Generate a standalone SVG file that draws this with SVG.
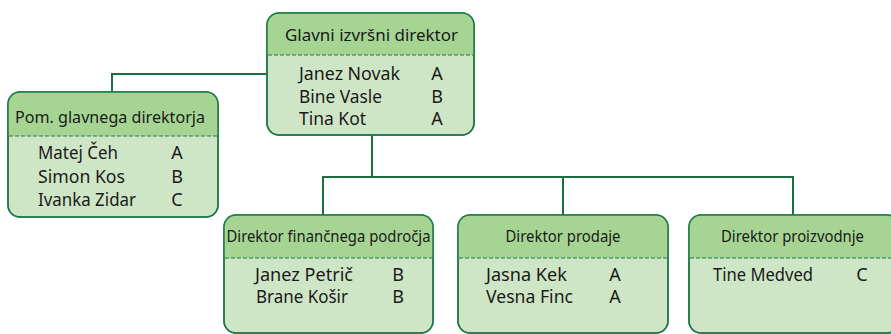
<svg xmlns="http://www.w3.org/2000/svg" width="891" height="334" viewBox="0 0 891 334">
<style>
.body{fill:#cfe6c6;stroke:#1f7a4a;stroke-width:1.5}
.head{fill:#a6d593}
.frame{fill:none;stroke:#1f7a4a;stroke-width:1.5}
.dash{stroke:#1f7a4a;stroke-width:1.2;stroke-dasharray:4 2;fill:none}
.conn{stroke:#1f6e42;stroke-width:2;fill:none}
text{font-family:"Noto Sans","Open Sans",sans-serif;font-size:18px;fill:#1a1a1a}
.h{text-anchor:middle;font-size:16.5px}
.m{text-anchor:middle}
</style>
<defs>
<clipPath id="c1"><rect x="267" y="13" width="207" height="122" rx="12"/></clipPath>
<clipPath id="c2"><rect x="8" y="92" width="210" height="125" rx="12"/></clipPath>
<clipPath id="c3"><rect x="224" y="215" width="209" height="118" rx="12"/></clipPath>
<clipPath id="c4"><rect x="458" y="215" width="210" height="118" rx="12"/></clipPath>
<clipPath id="c5"><rect x="689" y="215" width="210" height="118" rx="12"/></clipPath>
</defs>
<g id="connectors">
<path class="conn" d="M112 92 V74 H267"/>
<path class="conn" d="M372 135 V177"/>
<path class="conn" d="M323 215 V177 H793 V215"/>
<path class="conn" d="M563 177 V215"/>
</g>
<g id="ceo">
<rect class="body" x="267" y="13" width="207" height="122" rx="12"/>
<rect class="head" x="267" y="13" width="207" height="42" clip-path="url(#c1)"/>
<rect class="frame" x="267" y="13" width="207" height="122" rx="12"/>
<line class="dash" x1="268" y1="55" x2="473" y2="55"/>
<text x="371.5" y="41" class="h" textLength="173" lengthAdjust="spacingAndGlyphs">Glavni izvršni direktor</text>
<text x="299" y="80" textLength="101" lengthAdjust="spacingAndGlyphs">Janez Novak</text><text x="437" y="80" class="m">A</text>
<text x="299" y="103" textLength="83" lengthAdjust="spacingAndGlyphs">Bine Vasle</text><text x="437" y="103" class="m">B</text>
<text x="299" y="125" textLength="67" lengthAdjust="spacingAndGlyphs">Tina Kot</text><text x="437" y="125" class="m">A</text>
</g>
<g id="assistant">
<rect class="body" x="8" y="92" width="210" height="125" rx="12"/>
<rect class="head" x="8" y="92" width="210" height="44" clip-path="url(#c2)"/>
<rect class="frame" x="8" y="92" width="210" height="125" rx="12"/>
<line class="dash" x1="9" y1="136" x2="217" y2="136"/>
<text x="110" y="122.5" class="h" textLength="190" lengthAdjust="spacingAndGlyphs">Pom. glavnega direktorja</text>
<text x="38" y="159" textLength="80" lengthAdjust="spacingAndGlyphs">Matej Čeh</text><text x="177" y="159" class="m">A</text>
<text x="38" y="183" textLength="87" lengthAdjust="spacingAndGlyphs">Simon Kos</text><text x="177" y="183" class="m">B</text>
<text x="38" y="206" textLength="98" lengthAdjust="spacingAndGlyphs">Ivanka Zidar</text><text x="177" y="206" class="m">C</text>
</g>
<g id="finance">
<rect class="body" x="224" y="215" width="209" height="118" rx="12"/>
<rect class="head" x="224" y="215" width="209" height="43" clip-path="url(#c3)"/>
<rect class="frame" x="224" y="215" width="209" height="118" rx="12"/>
<line class="dash" x1="225" y1="258" x2="432" y2="258"/>
<text x="328.5" y="242" class="h" textLength="204" lengthAdjust="spacingAndGlyphs">Direktor finančnega področja</text>
<text x="255" y="281" textLength="98" lengthAdjust="spacingAndGlyphs">Janez Petrič</text><text x="398" y="281" class="m">B</text>
<text x="256" y="303" textLength="92" lengthAdjust="spacingAndGlyphs">Brane Košir</text><text x="398" y="303" class="m">B</text>
</g>
<g id="sales">
<rect class="body" x="458" y="215" width="210" height="118" rx="12"/>
<rect class="head" x="458" y="215" width="210" height="43" clip-path="url(#c4)"/>
<rect class="frame" x="458" y="215" width="210" height="118" rx="12"/>
<line class="dash" x1="459" y1="258" x2="667" y2="258"/>
<text x="563" y="242" class="h" textLength="115" lengthAdjust="spacingAndGlyphs">Direktor prodaje</text>
<text x="486" y="281" textLength="81" lengthAdjust="spacingAndGlyphs">Jasna Kek</text><text x="615" y="281" class="m">A</text>
<text x="486" y="303" textLength="87" lengthAdjust="spacingAndGlyphs">Vesna Finc</text><text x="615" y="303" class="m">A</text>
</g>
<g id="production">
<rect class="body" x="689" y="215" width="210" height="118" rx="12"/>
<rect class="head" x="689" y="215" width="210" height="43" clip-path="url(#c5)"/>
<rect class="frame" x="689" y="215" width="210" height="118" rx="12"/>
<line class="dash" x1="690" y1="258" x2="898" y2="258"/>
<text x="792.5" y="242" class="h" textLength="143" lengthAdjust="spacingAndGlyphs">Direktor proizvodnje</text>
<text x="713" y="281" textLength="100" lengthAdjust="spacingAndGlyphs">Tine Medved</text><text x="862" y="281" class="m">C</text>
</g>
</svg>
